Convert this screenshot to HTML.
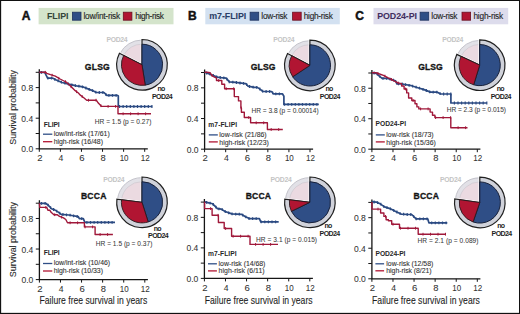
<!DOCTYPE html><html><head><meta charset="utf-8"><style>html,body{margin:0;padding:0;background:#fff;width:520px;height:314px;overflow:hidden}svg{display:block}</style></head><body><svg width="520" height="314" viewBox="0 0 520 314" font-family="Liberation Sans, sans-serif">
<rect x="0" y="0" width="520" height="314" fill="#fff"/>
<text x="21.64" y="19.90" font-size="12.0" font-weight="bold" fill="#111" text-anchor="start" textLength="8.95" lengthAdjust="spacing" stroke="#111" stroke-width="0.45" >A</text>
<rect x="38.6" y="7.9" width="134.9" height="16.4" fill="#d4e4cb"/>
<text x="46.88" y="19.20" font-size="8.9" font-weight="bold" fill="#33463a" text-anchor="start" textLength="21.7" lengthAdjust="spacing" stroke="#33463a" stroke-width="0.05" >FLIPI</text>
<rect x="72.4" y="12.2" width="8.6" height="8" fill="#2f4e86" stroke="#1f3360" stroke-width="0.8"/>
<text x="83.42" y="18.80" font-size="8.3" font-weight="normal" fill="#262626" text-anchor="start" textLength="36.7" lengthAdjust="spacing" stroke="#262626" stroke-width="0.12" >low/int-risk</text>
<rect x="123.30000000000001" y="12.2" width="8.6" height="8" fill="#b11532" stroke="#6a0f20" stroke-width="0.8"/>
<text x="135.22" y="18.80" font-size="8.3" font-weight="normal" fill="#262626" text-anchor="start" textLength="28.67" lengthAdjust="spacing" stroke="#262626" stroke-width="0.12" >high-risk</text>
<text x="187.96" y="19.90" font-size="12.0" font-weight="bold" fill="#111" text-anchor="start" textLength="8.35" lengthAdjust="spacing" stroke="#111" stroke-width="0.45" >B</text>
<rect x="205.3" y="7.9" width="134.5" height="16.4" fill="#d3e1f1"/>
<text x="209.18" y="19.20" font-size="8.9" font-weight="bold" fill="#2a3d66" text-anchor="start" textLength="37.08" lengthAdjust="spacing" stroke="#2a3d66" stroke-width="0.05" >m7-FLIPI</text>
<rect x="250.1" y="12.2" width="8.6" height="8" fill="#2f4e86" stroke="#1f3360" stroke-width="0.8"/>
<text x="261.32" y="18.80" font-size="8.3" font-weight="normal" fill="#262626" text-anchor="start" textLength="26.17" lengthAdjust="spacing" stroke="#262626" stroke-width="0.12" >low-risk</text>
<rect x="292.59999999999997" y="12.2" width="8.6" height="8" fill="#b11532" stroke="#6a0f20" stroke-width="0.8"/>
<text x="303.72" y="18.80" font-size="8.3" font-weight="normal" fill="#262626" text-anchor="start" textLength="29.17" lengthAdjust="spacing" stroke="#262626" stroke-width="0.12" >high-risk</text>
<text x="355.22" y="19.90" font-size="12.0" font-weight="bold" fill="#111" text-anchor="start" textLength="8.37" lengthAdjust="spacing" stroke="#111" stroke-width="0.45" >C</text>
<rect x="373.5" y="7.9" width="134.7" height="16.4" fill="#dddcec"/>
<text x="377.28" y="19.20" font-size="8.9" font-weight="bold" fill="#422e60" text-anchor="start" textLength="39.62" lengthAdjust="spacing" stroke="#422e60" stroke-width="0.05" >POD24-PI</text>
<rect x="420.09999999999997" y="12.2" width="8.6" height="8" fill="#2f4e86" stroke="#1f3360" stroke-width="0.8"/>
<text x="431.32" y="18.80" font-size="8.3" font-weight="normal" fill="#262626" text-anchor="start" textLength="26.17" lengthAdjust="spacing" stroke="#262626" stroke-width="0.12" >low-risk</text>
<rect x="462.0" y="12.2" width="8.6" height="8" fill="#b11532" stroke="#6a0f20" stroke-width="0.8"/>
<text x="473.42" y="18.80" font-size="8.3" font-weight="normal" fill="#262626" text-anchor="start" textLength="29.77" lengthAdjust="spacing" stroke="#262626" stroke-width="0.12" >high-risk</text>
<path d="M39.3,69.3 V148.8 H147.8" fill="none" stroke="#151515" stroke-width="1.3"/>
<path d="M35.699999999999996,72.30 H39.3" stroke="#151515" stroke-width="1"/>
<path d="M35.699999999999996,87.60 H39.3" stroke="#151515" stroke-width="1"/>
<path d="M35.699999999999996,102.90 H39.3" stroke="#151515" stroke-width="1"/>
<path d="M35.699999999999996,118.20 H39.3" stroke="#151515" stroke-width="1"/>
<path d="M35.699999999999996,133.50 H39.3" stroke="#151515" stroke-width="1"/>
<path d="M35.699999999999996,148.80 H39.3" stroke="#151515" stroke-width="1"/>
<text x="21.36" y="91.10" font-size="8.6" font-weight="normal" fill="#333" text-anchor="start" textLength="11.89" lengthAdjust="spacingAndGlyphs" stroke="#333" stroke-width="0.05" >0.8</text>
<text x="21.36" y="121.70" font-size="8.6" font-weight="normal" fill="#333" text-anchor="start" textLength="11.8" lengthAdjust="spacingAndGlyphs" stroke="#333" stroke-width="0.05" >0.4</text>
<text x="21.36" y="152.30" font-size="8.6" font-weight="normal" fill="#333" text-anchor="start" textLength="11.89" lengthAdjust="spacingAndGlyphs" stroke="#333" stroke-width="0.05" >0.0</text>
<path d="M39.30,148.8 V151.8" stroke="#151515" stroke-width="1"/>
<text x="37.22" y="161.00" font-size="8.6" font-weight="normal" fill="#333" text-anchor="start" textLength="5.32" lengthAdjust="spacingAndGlyphs" stroke="#333" stroke-width="0.05" >2</text>
<path d="M60.38,148.8 V151.8" stroke="#151515" stroke-width="1"/>
<text x="58.61" y="161.00" font-size="8.6" font-weight="normal" fill="#333" text-anchor="start" textLength="4.8" lengthAdjust="spacingAndGlyphs" stroke="#333" stroke-width="0.05" >4</text>
<path d="M81.46,148.8 V151.8" stroke="#151515" stroke-width="1"/>
<text x="79.38" y="161.00" font-size="8.6" font-weight="normal" fill="#333" text-anchor="start" textLength="5.32" lengthAdjust="spacingAndGlyphs" stroke="#333" stroke-width="0.05" >6</text>
<path d="M102.54,148.8 V151.8" stroke="#151515" stroke-width="1"/>
<text x="100.57" y="161.00" font-size="8.6" font-weight="normal" fill="#333" text-anchor="start" textLength="5.21" lengthAdjust="spacingAndGlyphs" stroke="#333" stroke-width="0.05" >8</text>
<path d="M123.62,148.8 V151.8" stroke="#151515" stroke-width="1"/>
<text x="119.63" y="161.00" font-size="8.6" font-weight="normal" fill="#333" text-anchor="start" textLength="8.88" lengthAdjust="spacingAndGlyphs" stroke="#333" stroke-width="0.05" >10</text>
<path d="M144.70,148.8 V151.8" stroke="#151515" stroke-width="1"/>
<text x="140.71" y="161.00" font-size="8.6" font-weight="normal" fill="#333" text-anchor="start" textLength="8.97" lengthAdjust="spacingAndGlyphs" stroke="#333" stroke-width="0.05" >12</text>
<path d="M39.4,200.2 V279.6 H147.9" fill="none" stroke="#151515" stroke-width="1.3"/>
<path d="M35.8,203.20 H39.4" stroke="#151515" stroke-width="1"/>
<path d="M35.8,218.48 H39.4" stroke="#151515" stroke-width="1"/>
<path d="M35.8,233.76 H39.4" stroke="#151515" stroke-width="1"/>
<path d="M35.8,249.04 H39.4" stroke="#151515" stroke-width="1"/>
<path d="M35.8,264.32 H39.4" stroke="#151515" stroke-width="1"/>
<path d="M35.8,279.60 H39.4" stroke="#151515" stroke-width="1"/>
<text x="21.46" y="221.98" font-size="8.6" font-weight="normal" fill="#333" text-anchor="start" textLength="11.89" lengthAdjust="spacingAndGlyphs" stroke="#333" stroke-width="0.05" >0.8</text>
<text x="21.46" y="252.54" font-size="8.6" font-weight="normal" fill="#333" text-anchor="start" textLength="11.8" lengthAdjust="spacingAndGlyphs" stroke="#333" stroke-width="0.05" >0.4</text>
<text x="21.46" y="283.10" font-size="8.6" font-weight="normal" fill="#333" text-anchor="start" textLength="11.89" lengthAdjust="spacingAndGlyphs" stroke="#333" stroke-width="0.05" >0.0</text>
<path d="M39.40,279.6 V282.6" stroke="#151515" stroke-width="1"/>
<text x="37.32" y="291.80" font-size="8.6" font-weight="normal" fill="#333" text-anchor="start" textLength="5.32" lengthAdjust="spacingAndGlyphs" stroke="#333" stroke-width="0.05" >2</text>
<path d="M60.48,279.6 V282.6" stroke="#151515" stroke-width="1"/>
<text x="58.71" y="291.80" font-size="8.6" font-weight="normal" fill="#333" text-anchor="start" textLength="4.8" lengthAdjust="spacingAndGlyphs" stroke="#333" stroke-width="0.05" >4</text>
<path d="M81.56,279.6 V282.6" stroke="#151515" stroke-width="1"/>
<text x="79.48" y="291.80" font-size="8.6" font-weight="normal" fill="#333" text-anchor="start" textLength="5.32" lengthAdjust="spacingAndGlyphs" stroke="#333" stroke-width="0.05" >6</text>
<path d="M102.64,279.6 V282.6" stroke="#151515" stroke-width="1"/>
<text x="100.67" y="291.80" font-size="8.6" font-weight="normal" fill="#333" text-anchor="start" textLength="5.21" lengthAdjust="spacingAndGlyphs" stroke="#333" stroke-width="0.05" >8</text>
<path d="M123.72,279.6 V282.6" stroke="#151515" stroke-width="1"/>
<text x="119.73" y="291.80" font-size="8.6" font-weight="normal" fill="#333" text-anchor="start" textLength="8.88" lengthAdjust="spacingAndGlyphs" stroke="#333" stroke-width="0.05" >10</text>
<path d="M144.80,279.6 V282.6" stroke="#151515" stroke-width="1"/>
<text x="140.81" y="291.80" font-size="8.6" font-weight="normal" fill="#333" text-anchor="start" textLength="8.97" lengthAdjust="spacingAndGlyphs" stroke="#333" stroke-width="0.05" >12</text>
<path d="M204.6,69.5 V149.2 H313.1" fill="none" stroke="#151515" stroke-width="1.3"/>
<path d="M201.0,72.50 H204.6" stroke="#151515" stroke-width="1"/>
<path d="M201.0,87.84 H204.6" stroke="#151515" stroke-width="1"/>
<path d="M201.0,103.18 H204.6" stroke="#151515" stroke-width="1"/>
<path d="M201.0,118.52 H204.6" stroke="#151515" stroke-width="1"/>
<path d="M201.0,133.86 H204.6" stroke="#151515" stroke-width="1"/>
<path d="M201.0,149.20 H204.6" stroke="#151515" stroke-width="1"/>
<text x="186.66" y="91.34" font-size="8.6" font-weight="normal" fill="#333" text-anchor="start" textLength="11.89" lengthAdjust="spacingAndGlyphs" stroke="#333" stroke-width="0.05" >0.8</text>
<text x="186.66" y="122.02" font-size="8.6" font-weight="normal" fill="#333" text-anchor="start" textLength="11.8" lengthAdjust="spacingAndGlyphs" stroke="#333" stroke-width="0.05" >0.4</text>
<text x="186.66" y="152.70" font-size="8.6" font-weight="normal" fill="#333" text-anchor="start" textLength="11.89" lengthAdjust="spacingAndGlyphs" stroke="#333" stroke-width="0.05" >0.0</text>
<path d="M204.60,149.2 V152.2" stroke="#151515" stroke-width="1"/>
<text x="202.52" y="161.40" font-size="8.6" font-weight="normal" fill="#333" text-anchor="start" textLength="5.32" lengthAdjust="spacingAndGlyphs" stroke="#333" stroke-width="0.05" >2</text>
<path d="M225.68,149.2 V152.2" stroke="#151515" stroke-width="1"/>
<text x="223.91" y="161.40" font-size="8.6" font-weight="normal" fill="#333" text-anchor="start" textLength="4.8" lengthAdjust="spacingAndGlyphs" stroke="#333" stroke-width="0.05" >4</text>
<path d="M246.76,149.2 V152.2" stroke="#151515" stroke-width="1"/>
<text x="244.68" y="161.40" font-size="8.6" font-weight="normal" fill="#333" text-anchor="start" textLength="5.32" lengthAdjust="spacingAndGlyphs" stroke="#333" stroke-width="0.05" >6</text>
<path d="M267.84,149.2 V152.2" stroke="#151515" stroke-width="1"/>
<text x="265.87" y="161.40" font-size="8.6" font-weight="normal" fill="#333" text-anchor="start" textLength="5.21" lengthAdjust="spacingAndGlyphs" stroke="#333" stroke-width="0.05" >8</text>
<path d="M288.92,149.2 V152.2" stroke="#151515" stroke-width="1"/>
<text x="284.93" y="161.40" font-size="8.6" font-weight="normal" fill="#333" text-anchor="start" textLength="8.88" lengthAdjust="spacingAndGlyphs" stroke="#333" stroke-width="0.05" >10</text>
<path d="M310.00,149.2 V152.2" stroke="#151515" stroke-width="1"/>
<text x="306.01" y="161.40" font-size="8.6" font-weight="normal" fill="#333" text-anchor="start" textLength="8.97" lengthAdjust="spacingAndGlyphs" stroke="#333" stroke-width="0.05" >12</text>
<path d="M204.4,199.1 V278.4 H312.9" fill="none" stroke="#151515" stroke-width="1.3"/>
<path d="M200.8,202.10 H204.4" stroke="#151515" stroke-width="1"/>
<path d="M200.8,217.36 H204.4" stroke="#151515" stroke-width="1"/>
<path d="M200.8,232.62 H204.4" stroke="#151515" stroke-width="1"/>
<path d="M200.8,247.88 H204.4" stroke="#151515" stroke-width="1"/>
<path d="M200.8,263.14 H204.4" stroke="#151515" stroke-width="1"/>
<path d="M200.8,278.40 H204.4" stroke="#151515" stroke-width="1"/>
<text x="186.46" y="220.86" font-size="8.6" font-weight="normal" fill="#333" text-anchor="start" textLength="11.89" lengthAdjust="spacingAndGlyphs" stroke="#333" stroke-width="0.05" >0.8</text>
<text x="186.46" y="251.38" font-size="8.6" font-weight="normal" fill="#333" text-anchor="start" textLength="11.8" lengthAdjust="spacingAndGlyphs" stroke="#333" stroke-width="0.05" >0.4</text>
<text x="186.46" y="281.90" font-size="8.6" font-weight="normal" fill="#333" text-anchor="start" textLength="11.89" lengthAdjust="spacingAndGlyphs" stroke="#333" stroke-width="0.05" >0.0</text>
<path d="M204.40,278.4 V281.4" stroke="#151515" stroke-width="1"/>
<text x="202.32" y="290.60" font-size="8.6" font-weight="normal" fill="#333" text-anchor="start" textLength="5.32" lengthAdjust="spacingAndGlyphs" stroke="#333" stroke-width="0.05" >2</text>
<path d="M225.48,278.4 V281.4" stroke="#151515" stroke-width="1"/>
<text x="223.71" y="290.60" font-size="8.6" font-weight="normal" fill="#333" text-anchor="start" textLength="4.8" lengthAdjust="spacingAndGlyphs" stroke="#333" stroke-width="0.05" >4</text>
<path d="M246.56,278.4 V281.4" stroke="#151515" stroke-width="1"/>
<text x="244.48" y="290.60" font-size="8.6" font-weight="normal" fill="#333" text-anchor="start" textLength="5.32" lengthAdjust="spacingAndGlyphs" stroke="#333" stroke-width="0.05" >6</text>
<path d="M267.64,278.4 V281.4" stroke="#151515" stroke-width="1"/>
<text x="265.67" y="290.60" font-size="8.6" font-weight="normal" fill="#333" text-anchor="start" textLength="5.21" lengthAdjust="spacingAndGlyphs" stroke="#333" stroke-width="0.05" >8</text>
<path d="M288.72,278.4 V281.4" stroke="#151515" stroke-width="1"/>
<text x="284.73" y="290.60" font-size="8.6" font-weight="normal" fill="#333" text-anchor="start" textLength="8.88" lengthAdjust="spacingAndGlyphs" stroke="#333" stroke-width="0.05" >10</text>
<path d="M309.80,278.4 V281.4" stroke="#151515" stroke-width="1"/>
<text x="305.81" y="290.60" font-size="8.6" font-weight="normal" fill="#333" text-anchor="start" textLength="8.97" lengthAdjust="spacingAndGlyphs" stroke="#333" stroke-width="0.05" >12</text>
<path d="M371.9,70.0 V149.2 H480.4" fill="none" stroke="#151515" stroke-width="1.3"/>
<path d="M368.29999999999995,73.00 H371.9" stroke="#151515" stroke-width="1"/>
<path d="M368.29999999999995,88.24 H371.9" stroke="#151515" stroke-width="1"/>
<path d="M368.29999999999995,103.48 H371.9" stroke="#151515" stroke-width="1"/>
<path d="M368.29999999999995,118.72 H371.9" stroke="#151515" stroke-width="1"/>
<path d="M368.29999999999995,133.96 H371.9" stroke="#151515" stroke-width="1"/>
<path d="M368.29999999999995,149.20 H371.9" stroke="#151515" stroke-width="1"/>
<text x="353.96" y="91.74" font-size="8.6" font-weight="normal" fill="#333" text-anchor="start" textLength="11.89" lengthAdjust="spacingAndGlyphs" stroke="#333" stroke-width="0.05" >0.8</text>
<text x="353.96" y="122.22" font-size="8.6" font-weight="normal" fill="#333" text-anchor="start" textLength="11.8" lengthAdjust="spacingAndGlyphs" stroke="#333" stroke-width="0.05" >0.4</text>
<text x="353.96" y="152.70" font-size="8.6" font-weight="normal" fill="#333" text-anchor="start" textLength="11.89" lengthAdjust="spacingAndGlyphs" stroke="#333" stroke-width="0.05" >0.0</text>
<path d="M371.90,149.2 V152.2" stroke="#151515" stroke-width="1"/>
<text x="369.82" y="161.40" font-size="8.6" font-weight="normal" fill="#333" text-anchor="start" textLength="5.32" lengthAdjust="spacingAndGlyphs" stroke="#333" stroke-width="0.05" >2</text>
<path d="M392.98,149.2 V152.2" stroke="#151515" stroke-width="1"/>
<text x="391.21" y="161.40" font-size="8.6" font-weight="normal" fill="#333" text-anchor="start" textLength="4.8" lengthAdjust="spacingAndGlyphs" stroke="#333" stroke-width="0.05" >4</text>
<path d="M414.06,149.2 V152.2" stroke="#151515" stroke-width="1"/>
<text x="411.98" y="161.40" font-size="8.6" font-weight="normal" fill="#333" text-anchor="start" textLength="5.32" lengthAdjust="spacingAndGlyphs" stroke="#333" stroke-width="0.05" >6</text>
<path d="M435.14,149.2 V152.2" stroke="#151515" stroke-width="1"/>
<text x="433.17" y="161.40" font-size="8.6" font-weight="normal" fill="#333" text-anchor="start" textLength="5.21" lengthAdjust="spacingAndGlyphs" stroke="#333" stroke-width="0.05" >8</text>
<path d="M456.22,149.2 V152.2" stroke="#151515" stroke-width="1"/>
<text x="452.23" y="161.40" font-size="8.6" font-weight="normal" fill="#333" text-anchor="start" textLength="8.88" lengthAdjust="spacingAndGlyphs" stroke="#333" stroke-width="0.05" >10</text>
<path d="M477.30,149.2 V152.2" stroke="#151515" stroke-width="1"/>
<text x="473.31" y="161.40" font-size="8.6" font-weight="normal" fill="#333" text-anchor="start" textLength="8.97" lengthAdjust="spacingAndGlyphs" stroke="#333" stroke-width="0.05" >12</text>
<path d="M371.9,199.4 V278.8 H480.4" fill="none" stroke="#151515" stroke-width="1.3"/>
<path d="M368.29999999999995,202.40 H371.9" stroke="#151515" stroke-width="1"/>
<path d="M368.29999999999995,217.68 H371.9" stroke="#151515" stroke-width="1"/>
<path d="M368.29999999999995,232.96 H371.9" stroke="#151515" stroke-width="1"/>
<path d="M368.29999999999995,248.24 H371.9" stroke="#151515" stroke-width="1"/>
<path d="M368.29999999999995,263.52 H371.9" stroke="#151515" stroke-width="1"/>
<path d="M368.29999999999995,278.80 H371.9" stroke="#151515" stroke-width="1"/>
<text x="353.96" y="221.18" font-size="8.6" font-weight="normal" fill="#333" text-anchor="start" textLength="11.89" lengthAdjust="spacingAndGlyphs" stroke="#333" stroke-width="0.05" >0.8</text>
<text x="353.96" y="251.74" font-size="8.6" font-weight="normal" fill="#333" text-anchor="start" textLength="11.8" lengthAdjust="spacingAndGlyphs" stroke="#333" stroke-width="0.05" >0.4</text>
<text x="353.96" y="282.30" font-size="8.6" font-weight="normal" fill="#333" text-anchor="start" textLength="11.89" lengthAdjust="spacingAndGlyphs" stroke="#333" stroke-width="0.05" >0.0</text>
<path d="M371.90,278.8 V281.8" stroke="#151515" stroke-width="1"/>
<text x="369.82" y="291.00" font-size="8.6" font-weight="normal" fill="#333" text-anchor="start" textLength="5.32" lengthAdjust="spacingAndGlyphs" stroke="#333" stroke-width="0.05" >2</text>
<path d="M392.98,278.8 V281.8" stroke="#151515" stroke-width="1"/>
<text x="391.21" y="291.00" font-size="8.6" font-weight="normal" fill="#333" text-anchor="start" textLength="4.8" lengthAdjust="spacingAndGlyphs" stroke="#333" stroke-width="0.05" >4</text>
<path d="M414.06,278.8 V281.8" stroke="#151515" stroke-width="1"/>
<text x="411.98" y="291.00" font-size="8.6" font-weight="normal" fill="#333" text-anchor="start" textLength="5.32" lengthAdjust="spacingAndGlyphs" stroke="#333" stroke-width="0.05" >6</text>
<path d="M435.14,278.8 V281.8" stroke="#151515" stroke-width="1"/>
<text x="433.17" y="291.00" font-size="8.6" font-weight="normal" fill="#333" text-anchor="start" textLength="5.21" lengthAdjust="spacingAndGlyphs" stroke="#333" stroke-width="0.05" >8</text>
<path d="M456.22,278.8 V281.8" stroke="#151515" stroke-width="1"/>
<text x="452.23" y="291.00" font-size="8.6" font-weight="normal" fill="#333" text-anchor="start" textLength="8.88" lengthAdjust="spacingAndGlyphs" stroke="#333" stroke-width="0.05" >10</text>
<path d="M477.30,278.8 V281.8" stroke="#151515" stroke-width="1"/>
<text x="473.31" y="291.00" font-size="8.6" font-weight="normal" fill="#333" text-anchor="start" textLength="8.97" lengthAdjust="spacingAndGlyphs" stroke="#333" stroke-width="0.05" >12</text>
<text x="-0.44" y="0.00" font-size="9.9" font-weight="normal" fill="#2a2a2a" text-anchor="start" textLength="74.57" lengthAdjust="spacingAndGlyphs" stroke="#2a2a2a" stroke-width="0.1" transform="translate(16.1,144.3) rotate(-90)">Survival probability</text>
<text x="-0.45" y="0.00" font-size="9.9" font-weight="normal" fill="#2a2a2a" text-anchor="start" textLength="75.17" lengthAdjust="spacingAndGlyphs" stroke="#2a2a2a" stroke-width="0.1" transform="translate(16.1,276.8) rotate(-90)">Survival probability</text>
<text x="39.51" y="304.10" font-size="10.3" font-weight="normal" fill="#1e1e1e" text-anchor="start" textLength="107.79" lengthAdjust="spacingAndGlyphs" stroke="#1e1e1e" stroke-width="0.1" >Failure free survival in years</text>
<text x="204.81" y="304.10" font-size="10.3" font-weight="normal" fill="#1e1e1e" text-anchor="start" textLength="107.79" lengthAdjust="spacingAndGlyphs" stroke="#1e1e1e" stroke-width="0.1" >Failure free survival in years</text>
<text x="372.11" y="304.10" font-size="10.3" font-weight="normal" fill="#1e1e1e" text-anchor="start" textLength="107.79" lengthAdjust="spacingAndGlyphs" stroke="#1e1e1e" stroke-width="0.1" >Failure free survival in years</text>
<path d="M141.74,64.37 L120.09,53.34 A24.3,24.3 0 0 1 141.74,40.07 Z" fill="#e2e1e7" stroke="#bebec6" stroke-width="0.9"/>
<path d="M141.74,64.37 L123.74,55.20 A20.200000000000003,20.200000000000003 0 0 1 141.74,44.17 Z" fill="#ebdae1" stroke="#cdc8d0" stroke-width="0.7"/>
<path d="M118.12,52.63 L142.00,64.80 L142.00,38.00" fill="none" stroke="#fff" stroke-width="2.6"/>
<path d="M142.00,64.80 L142.00,39.50 A25.3,25.3 0 1 1 119.46,53.31 Z" fill="#d0d2da" stroke="#202020" stroke-width="1.2"/>
<path d="M142.00,64.80 L142.00,44.20 A20.6,20.6 0 0 1 145.22,85.15 Z" fill="#2f4e86" stroke="#18213a" stroke-width="1.0"/>
<path d="M142.00,64.80 L145.22,85.15 A20.6,20.6 0 0 1 123.65,55.45 Z" fill="#b11532" stroke="#2a1a1e" stroke-width="0.9"/>
<path d="M141.67,201.93 L117.55,198.96 A24.3,24.3 0 0 1 141.67,177.63 Z" fill="#e2e1e7" stroke="#bebec6" stroke-width="0.9"/>
<path d="M141.67,201.93 L121.62,199.46 A20.200000000000003,20.200000000000003 0 0 1 141.67,181.73 Z" fill="#ebdae1" stroke="#cdc8d0" stroke-width="0.7"/>
<path d="M115.40,199.03 L142.00,202.30 L142.00,175.50" fill="none" stroke="#fff" stroke-width="2.6"/>
<path d="M142.00,202.30 L142.00,177.00 A25.3,25.3 0 1 1 116.89,199.22 Z" fill="#d0d2da" stroke="#202020" stroke-width="1.2"/>
<path d="M142.00,202.30 L142.00,181.70 A20.6,20.6 0 0 1 148.19,221.95 Z" fill="#2f4e86" stroke="#18213a" stroke-width="1.0"/>
<path d="M142.00,202.30 L148.19,221.95 A20.6,20.6 0 0 1 121.55,199.79 Z" fill="#b11532" stroke="#2a1a1e" stroke-width="0.9"/>
<path d="M309.64,64.97 L288.19,53.56 A24.3,24.3 0 0 1 309.64,40.67 Z" fill="#e2e1e7" stroke="#bebec6" stroke-width="0.9"/>
<path d="M309.64,64.97 L291.81,55.49 A20.200000000000003,20.200000000000003 0 0 1 309.64,44.77 Z" fill="#ebdae1" stroke="#cdc8d0" stroke-width="0.7"/>
<path d="M286.24,52.82 L309.90,65.40 L309.90,38.60" fill="none" stroke="#fff" stroke-width="2.6"/>
<path d="M309.90,65.40 L309.90,40.10 A25.3,25.3 0 1 1 287.56,53.52 Z" fill="#d0d2da" stroke="#202020" stroke-width="1.2"/>
<path d="M309.90,65.40 L309.90,44.80 A20.6,20.6 0 1 1 292.72,76.77 Z" fill="#2f4e86" stroke="#18213a" stroke-width="1.0"/>
<path d="M309.90,65.40 L292.72,76.77 A20.6,20.6 0 0 1 291.71,55.73 Z" fill="#b11532" stroke="#2a1a1e" stroke-width="0.9"/>
<path d="M309.57,201.93 L285.45,198.96 A24.3,24.3 0 0 1 309.57,177.63 Z" fill="#e2e1e7" stroke="#bebec6" stroke-width="0.9"/>
<path d="M309.57,201.93 L289.52,199.46 A20.200000000000003,20.200000000000003 0 0 1 309.57,181.73 Z" fill="#ebdae1" stroke="#cdc8d0" stroke-width="0.7"/>
<path d="M283.30,199.03 L309.90,202.30 L309.90,175.50" fill="none" stroke="#fff" stroke-width="2.6"/>
<path d="M309.90,202.30 L309.90,177.00 A25.3,25.3 0 1 1 284.79,199.22 Z" fill="#d0d2da" stroke="#202020" stroke-width="1.2"/>
<path d="M309.90,202.30 L309.90,181.70 A20.6,20.6 0 1 1 291.38,211.33 Z" fill="#2f4e86" stroke="#18213a" stroke-width="1.0"/>
<path d="M309.90,202.30 L291.38,211.33 A20.6,20.6 0 0 1 289.45,199.79 Z" fill="#b11532" stroke="#2a1a1e" stroke-width="0.9"/>
<path d="M479.43,64.68 L457.41,54.41 A24.3,24.3 0 0 1 479.43,40.38 Z" fill="#e2e1e7" stroke="#bebec6" stroke-width="0.9"/>
<path d="M479.43,64.68 L461.12,56.14 A20.200000000000003,20.200000000000003 0 0 1 479.43,44.48 Z" fill="#ebdae1" stroke="#cdc8d0" stroke-width="0.7"/>
<path d="M455.41,53.77 L479.70,65.10 L479.70,38.30" fill="none" stroke="#fff" stroke-width="2.6"/>
<path d="M479.70,65.10 L479.70,39.80 A25.3,25.3 0 1 1 456.77,54.41 Z" fill="#d0d2da" stroke="#202020" stroke-width="1.2"/>
<path d="M479.70,65.10 L479.70,44.50 A20.6,20.6 0 1 1 473.68,84.80 Z" fill="#2f4e86" stroke="#18213a" stroke-width="1.0"/>
<path d="M479.70,65.10 L473.68,84.80 A20.6,20.6 0 0 1 461.03,56.39 Z" fill="#b11532" stroke="#2a1a1e" stroke-width="0.9"/>
<path d="M479.47,202.12 L455.41,198.74 A24.3,24.3 0 0 1 479.47,177.82 Z" fill="#e2e1e7" stroke="#bebec6" stroke-width="0.9"/>
<path d="M479.47,202.12 L459.47,199.31 A20.200000000000003,20.200000000000003 0 0 1 479.47,181.92 Z" fill="#ebdae1" stroke="#cdc8d0" stroke-width="0.7"/>
<path d="M453.26,198.77 L479.80,202.50 L479.80,175.70" fill="none" stroke="#fff" stroke-width="2.6"/>
<path d="M479.80,202.50 L479.80,177.20 A25.3,25.3 0 1 1 454.75,198.98 Z" fill="#d0d2da" stroke="#202020" stroke-width="1.2"/>
<path d="M479.80,202.50 L479.80,181.90 A20.6,20.6 0 1 1 473.09,221.98 Z" fill="#2f4e86" stroke="#18213a" stroke-width="1.0"/>
<path d="M479.80,202.50 L473.09,221.98 A20.6,20.6 0 0 1 459.40,199.63 Z" fill="#b11532" stroke="#2a1a1e" stroke-width="0.9"/>
<text x="106.42" y="42.30" font-size="6.8" font-weight="bold" fill="#c4c4c4" text-anchor="start" textLength="21.14" lengthAdjust="spacing" >POD24</text>
<text x="103.32" y="181.80" font-size="6.8" font-weight="bold" fill="#c4c4c4" text-anchor="start" textLength="21.14" lengthAdjust="spacing" >POD24</text>
<text x="273.32" y="41.90" font-size="6.8" font-weight="bold" fill="#c4c4c4" text-anchor="start" textLength="21.14" lengthAdjust="spacing" >POD24</text>
<text x="270.52" y="181.80" font-size="6.8" font-weight="bold" fill="#c4c4c4" text-anchor="start" textLength="21.14" lengthAdjust="spacing" >POD24</text>
<text x="442.22" y="41.90" font-size="6.8" font-weight="bold" fill="#c4c4c4" text-anchor="start" textLength="21.14" lengthAdjust="spacing" >POD24</text>
<text x="440.02" y="181.80" font-size="6.8" font-weight="bold" fill="#c4c4c4" text-anchor="start" textLength="21.14" lengthAdjust="spacing" >POD24</text>
<text x="157.61" y="91.10" font-size="7.0" font-weight="bold" fill="#1e1e1e" text-anchor="start" textLength="7.78" lengthAdjust="spacing" >no</text>
<text x="152.01" y="98.70" font-size="7.0" font-weight="bold" fill="#1e1e1e" text-anchor="start" textLength="20.66" lengthAdjust="spacing" >POD24</text>
<text x="153.71" y="231.10" font-size="7.0" font-weight="bold" fill="#1e1e1e" text-anchor="start" textLength="7.78" lengthAdjust="spacing" >no</text>
<text x="148.11" y="238.40" font-size="7.0" font-weight="bold" fill="#1e1e1e" text-anchor="start" textLength="20.66" lengthAdjust="spacing" >POD24</text>
<text x="325.51" y="91.00" font-size="7.0" font-weight="bold" fill="#1e1e1e" text-anchor="start" textLength="7.78" lengthAdjust="spacing" >no</text>
<text x="319.81" y="98.70" font-size="7.0" font-weight="bold" fill="#1e1e1e" text-anchor="start" textLength="20.66" lengthAdjust="spacing" >POD24</text>
<text x="324.61" y="227.90" font-size="7.0" font-weight="bold" fill="#1e1e1e" text-anchor="start" textLength="7.78" lengthAdjust="spacing" >no</text>
<text x="319.61" y="236.00" font-size="7.0" font-weight="bold" fill="#1e1e1e" text-anchor="start" textLength="20.66" lengthAdjust="spacing" >POD24</text>
<text x="496.71" y="91.00" font-size="7.0" font-weight="bold" fill="#1e1e1e" text-anchor="start" textLength="7.78" lengthAdjust="spacing" >no</text>
<text x="490.71" y="98.80" font-size="7.0" font-weight="bold" fill="#1e1e1e" text-anchor="start" textLength="20.66" lengthAdjust="spacing" >POD24</text>
<text x="497.21" y="227.90" font-size="7.0" font-weight="bold" fill="#1e1e1e" text-anchor="start" textLength="7.78" lengthAdjust="spacing" >no</text>
<text x="491.61" y="236.00" font-size="7.0" font-weight="bold" fill="#1e1e1e" text-anchor="start" textLength="20.66" lengthAdjust="spacing" >POD24</text>
<text x="84.86" y="69.80" font-size="8.6" font-weight="bold" fill="#141414" text-anchor="start" textLength="24.89" lengthAdjust="spacing" stroke="#141414" stroke-width="0.3" >GLSG</text>
<text x="80.90" y="198.80" font-size="8.6" font-weight="bold" fill="#141414" text-anchor="start" textLength="25.55" lengthAdjust="spacing" stroke="#141414" stroke-width="0.3" >BCCA</text>
<text x="250.66" y="69.60" font-size="8.6" font-weight="bold" fill="#141414" text-anchor="start" textLength="24.89" lengthAdjust="spacing" stroke="#141414" stroke-width="0.3" >GLSG</text>
<text x="245.70" y="198.90" font-size="8.6" font-weight="bold" fill="#141414" text-anchor="start" textLength="25.35" lengthAdjust="spacing" stroke="#141414" stroke-width="0.3" >BCCA</text>
<text x="418.16" y="69.60" font-size="8.6" font-weight="bold" fill="#141414" text-anchor="start" textLength="24.59" lengthAdjust="spacing" stroke="#141414" stroke-width="0.3" >GLSG</text>
<text x="413.50" y="198.90" font-size="8.6" font-weight="bold" fill="#141414" text-anchor="start" textLength="25.45" lengthAdjust="spacing" stroke="#141414" stroke-width="0.3" >BCCA</text>
<path d="M39.3,72.3 L44.7,72.3 L47.6,78.1 L52.4,78.1 L56.3,80.0 L62.0,82.5 L69.7,84.3 L76.5,85.8 L80.0,86.3 L83.8,87.2 L88.7,89.1 L92.5,90.6 L96.3,92.5 L104.0,92.5 L106.9,95.4 L117.5,95.4 L118.3,96.0 L118.3,106.5 L152.2,106.5" fill="none" stroke="#2b4a82" stroke-width="1.7" stroke-linejoin="round"/>
<path d="M41.4,70.9v2.8M47.9,76.7v2.8M51.5,76.7v2.8M54.8,77.9v2.8M58.1,79.4v2.8M61.4,80.8v2.8M64.9,81.8v2.8M68.4,82.6v2.8M71.9,83.4v2.8M75.4,84.2v2.8M78.9,84.7v2.8M82.5,85.5v2.8M85.9,86.6v2.8M89.2,87.9v2.8M92.6,89.2v2.8M95.8,90.8v2.8M99.3,91.1v2.8M102.9,91.1v2.8M105.8,92.9v2.8M108.9,94.0v2.8M112.5,94.0v2.8M116.1,94.0v2.8M119.5,105.1v2.8M123.1,105.1v2.8M126.7,105.1v2.8M130.3,105.1v2.8M133.9,105.1v2.8M137.5,105.1v2.8M141.1,105.1v2.8M144.7,105.1v2.8M148.3,105.1v2.8M151.9,105.1v2.8" stroke="#2b4a82" stroke-width="1.2"/>
<path d="M39.3,72.3 L45.7,72.3 L46.7,73.3 L50.5,74.7 L55.3,76.2 L60.1,79.0 L64.0,81.0 L66.8,82.4 L70.7,86.3 L74.5,90.1 L78.4,93.0 L80.0,94.9 L83.8,97.8 L86.7,100.2 L96.3,100.2 L98.3,103.1 L101.6,106.4 L118.0,106.4 L118.0,113.8 L151.0,113.8" fill="none" stroke="#a0183a" stroke-width="1.4" stroke-linejoin="round"/>
<path d="M45.3,70.9v2.8M52.1,73.8v2.8M58.8,76.9v2.8M65.5,80.3v2.8M71.1,85.3v2.8M76.6,90.3v2.8M82.2,95.2v2.8M88.5,98.8v2.8M96.0,98.8v2.8M100.9,104.3v2.8M108.1,105.0v2.8M115.6,105.0v2.8M123.1,112.4v2.8M130.6,112.4v2.8M138.1,112.4v2.8M145.6,112.4v2.8" stroke="#a0183a" stroke-width="1.0"/>
<path d="M39.4,203.3 L45.6,203.3 L48.3,205.2 L51.5,208.8 L54.7,209.9 L57.9,211.9 L61.1,214.3 L68.8,215.0 L78.3,216.7 L79.3,218.7 L83.3,218.7 L84.9,222.3 L115.0,222.3" fill="none" stroke="#2b4a82" stroke-width="1.7" stroke-linejoin="round"/>
<path d="M41.5,201.9v2.8M45.1,201.9v2.8M48.1,203.7v2.8M50.6,206.3v2.8M53.6,208.1v2.8M56.7,209.8v2.8M59.7,211.8v2.8M62.9,213.1v2.8M66.5,213.4v2.8M70.1,213.8v2.8M73.6,214.5v2.8M77.2,215.1v2.8M81.7,217.3v2.8M86.9,220.9v2.8M90.5,220.9v2.8M94.1,220.9v2.8M97.7,220.9v2.8M101.3,220.9v2.8M104.9,220.9v2.8M108.5,220.9v2.8M112.1,220.9v2.8" stroke="#2b4a82" stroke-width="1.2"/>
<path d="M39.4,203.3 L39.8,207.4 L46.8,207.4 L47.9,210.3 L49.9,210.3 L51.1,212.3 L53.9,214.7 L57.1,214.7 L59.5,216.3 L63.5,217.9 L65.8,219.5 L67.5,222.8 L84.4,222.8 L84.4,226.9 L95.1,226.9 L95.1,234.5 L112.9,234.5" fill="none" stroke="#a0183a" stroke-width="1.4" stroke-linejoin="round"/>
<path d="M45.8,206.0v2.8M54.7,213.3v2.8M61.6,215.7v2.8M70.1,221.4v2.8M77.6,221.4v2.8M85.1,225.5v2.8M92.6,225.5v2.8M100.1,233.1v2.8M107.6,233.1v2.8" stroke="#a0183a" stroke-width="1.0"/>
<path d="M204.6,72.3 L212.6,75.2 L217.4,77.1 L221.3,77.6 L226.1,78.1 L229.4,81.9 L235.7,82.4 L243.4,83.4 L245.8,83.6 L248.1,86.2 L254.2,87.4 L257.3,87.4 L260.0,89.1 L262.9,91.5 L271.5,91.5 L273.4,93.8 L282.4,93.8 L283.9,96.2 L283.9,104.4 L318.8,104.4" fill="none" stroke="#2b4a82" stroke-width="1.7" stroke-linejoin="round"/>
<path d="M206.6,71.6v2.8M210.0,72.8v2.8M213.3,74.1v2.8M216.7,75.4v2.8M220.2,76.1v2.8M223.8,76.5v2.8M226.9,77.7v2.8M229.3,80.4v2.8M232.8,80.8v2.8M236.4,81.1v2.8M240.0,81.6v2.8M243.6,82.0v2.8M246.7,83.2v2.8M249.5,85.1v2.8M253.1,85.8v2.8M256.7,86.0v2.8M259.8,87.6v2.8M262.6,89.8v2.8M266.1,90.1v2.8M269.7,90.1v2.8M272.6,91.5v2.8M275.8,92.4v2.8M279.4,92.4v2.8M284.5,103.0v2.8M288.1,103.0v2.8M291.7,103.0v2.8M295.3,103.0v2.8M298.9,103.0v2.8M302.5,103.0v2.8M306.1,103.0v2.8M309.7,103.0v2.8M313.3,103.0v2.8M316.9,103.0v2.8" stroke="#2b4a82" stroke-width="1.2"/>
<path d="M204.6,72.3 L206.8,72.3 L210.2,72.8 L211.7,75.2 L213.6,76.7 L216.5,78.1 L216.5,80.5 L221.8,80.5 L221.8,84.3 L224.6,84.3 L224.6,88.7 L234.3,88.7 L234.3,96.6 L238.5,96.6 L238.5,100.9 L240.9,100.9 L240.9,107.9 L241.4,107.9 L241.4,112.2 L244.3,112.2 L244.3,117.5 L250.6,117.5 L250.6,122.8 L267.4,122.8 L267.4,129.5 L282.8,129.5" fill="none" stroke="#a0183a" stroke-width="1.4" stroke-linejoin="round"/>
<path d="M212.0,74.0v2.8M218.7,79.1v2.8M226.2,87.3v2.8M233.7,87.3v2.8M241.2,106.5v2.8M248.7,116.1v2.8M256.2,121.4v2.8M263.7,121.4v2.8M271.2,128.1v2.8M278.7,128.1v2.8" stroke="#a0183a" stroke-width="1.0"/>
<path d="M204.6,201.8 L208.8,202.8 L212.6,203.8 L215.5,206.7 L217.4,208.6 L221.3,209.1 L225.1,211.5 L231.8,213.9 L241.5,214.3 L245.0,216.5 L249.3,218.6 L259.4,218.6 L260.8,221.9 L278.7,221.9" fill="none" stroke="#2b4a82" stroke-width="1.7" stroke-linejoin="round"/>
<path d="M206.6,200.9v2.8M210.1,201.8v2.8M213.3,203.1v2.8M215.9,205.7v2.8M218.9,207.4v2.8M222.3,208.3v2.8M225.3,210.2v2.8M228.7,211.4v2.8M232.1,212.5v2.8M235.7,212.7v2.8M239.3,212.8v2.8M242.7,213.7v2.8M245.8,215.5v2.8M249.0,217.1v2.8M252.6,217.2v2.8M256.2,217.2v2.8M261.2,220.5v2.8M264.8,220.5v2.8M268.4,220.5v2.8M272.0,220.5v2.8M275.6,220.5v2.8" stroke="#2b4a82" stroke-width="1.2"/>
<path d="M204.6,201.8 L204.6,208.6 L212.1,208.6 L212.1,215.3 L218.4,215.3 L218.4,222.5 L224.2,222.5 L224.2,228.5 L231.6,228.5 L231.6,236.2 L250.0,236.2 L250.0,244.4 L278.0,244.4" fill="none" stroke="#a0183a" stroke-width="1.4" stroke-linejoin="round"/>
<path d="M210.6,207.2v2.8M218.1,213.9v2.8M225.6,227.1v2.8M233.1,234.8v2.8M240.6,234.8v2.8M248.1,234.8v2.8M255.6,243.0v2.8M263.1,243.0v2.8M270.6,243.0v2.8" stroke="#a0183a" stroke-width="1.0"/>
<path d="M372.0,72.8 L376.4,73.3 L379.6,76.3 L382.1,78.3 L386.6,78.3 L395.5,80.7 L396.9,83.9 L401.7,83.9 L405.0,84.5 L411.4,85.7 L417.8,87.7 L424.1,89.6 L430.5,92.1 L436.9,92.1 L440.7,94.0 L450.9,94.0 L450.9,103.0 L486.8,103.0" fill="none" stroke="#2b4a82" stroke-width="1.7" stroke-linejoin="round"/>
<path d="M374.1,71.6v2.8M377.3,72.8v2.8M380.0,75.2v2.8M383.0,76.9v2.8M386.6,76.9v2.8M390.1,77.8v2.8M393.5,78.8v2.8M398.5,82.5v2.8M402.1,82.6v2.8M405.6,83.2v2.8M409.1,83.9v2.8M412.6,84.7v2.8M416.1,85.8v2.8M419.5,86.8v2.8M423.0,87.9v2.8M426.3,89.1v2.8M429.7,90.4v2.8M433.2,90.7v2.8M436.8,90.7v2.8M440.1,92.3v2.8M443.6,92.6v2.8M447.2,92.6v2.8M450.8,92.6v2.8M454.4,101.6v2.8M458.0,101.6v2.8M461.6,101.6v2.8M465.2,101.6v2.8M468.8,101.6v2.8M472.4,101.6v2.8M476.0,101.6v2.8M479.6,101.6v2.8M483.2,101.6v2.8M486.8,101.6v2.8" stroke="#2b4a82" stroke-width="1.2"/>
<path d="M372.0,72.8 L376.4,72.8 L379.6,74.0 L383.4,75.3 L387.8,77.6 L392.3,79.8 L396.8,82.3 L397.9,82.9 L401.6,83.6 L401.6,86.0 L404.1,86.0 L404.1,89.0 L406.7,89.0 L406.7,92.9 L408.6,92.9 L408.6,98.0 L411.8,98.0 L411.8,100.5 L415.0,100.5 L415.0,103.7 L416.9,103.7 L416.9,106.9 L418.8,106.9 L418.8,108.9 L430.1,108.9 L430.1,112.1 L432.5,112.1 L432.5,115.3 L434.9,115.3 L434.9,117.6 L450.8,117.6 L450.8,127.7 L467.5,127.7" fill="none" stroke="#a0183a" stroke-width="1.4" stroke-linejoin="round"/>
<path d="M377.9,72.0v2.8M384.9,74.7v2.8M391.6,78.0v2.8M398.2,81.6v2.8M405.6,87.6v2.8M413.1,99.1v2.8M420.6,107.5v2.8M428.1,107.5v2.8M435.6,116.2v2.8M443.1,116.2v2.8M450.6,116.2v2.8M458.1,126.3v2.8M465.6,126.3v2.8" stroke="#a0183a" stroke-width="1.0"/>
<path d="M372.0,201.9 L376.7,202.2 L380.6,204.1 L384.5,206.9 L390.0,208.6 L395.6,211.4 L401.2,214.1 L407.9,214.5 L411.7,214.5 L416.1,218.9 L427.8,218.9 L428.9,222.8 L447.3,222.8" fill="none" stroke="#2b4a82" stroke-width="1.7" stroke-linejoin="round"/>
<path d="M374.1,200.6v2.8M377.6,201.2v2.8M380.8,202.8v2.8M383.7,204.9v2.8M387.0,206.3v2.8M390.4,207.4v2.8M393.7,209.0v2.8M396.9,210.6v2.8M400.1,212.2v2.8M403.6,212.8v2.8M407.2,213.1v2.8M410.8,213.1v2.8M413.6,215.0v2.8M416.2,217.5v2.8M419.8,217.5v2.8M423.4,217.5v2.8M427.0,217.5v2.8M431.7,221.4v2.8M435.3,221.4v2.8M438.9,221.4v2.8M442.5,221.4v2.8M446.1,221.4v2.8" stroke="#2b4a82" stroke-width="1.2"/>
<path d="M372.0,201.9 L372.0,209.1 L380.6,209.1 L380.6,213.0 L383.9,213.0 L383.9,216.4 L386.1,216.4 L386.1,219.7 L388.4,219.7 L388.4,220.8 L391.7,220.8 L391.7,224.2 L399.5,224.2 L399.5,228.2 L418.2,228.2 L418.2,234.2 L445.6,234.2" fill="none" stroke="#a0183a" stroke-width="1.4" stroke-linejoin="round"/>
<path d="M378.0,207.7v2.8M385.5,215.0v2.8M393.0,222.8v2.8M400.5,226.8v2.8M408.0,226.8v2.8M415.5,226.8v2.8M423.0,232.8v2.8M430.5,232.8v2.8M438.0,232.8v2.8M445.5,232.8v2.8" stroke="#a0183a" stroke-width="1.0"/>
<text x="94.77" y="124.00" font-size="6.6" font-weight="normal" fill="#3a3a3a" text-anchor="start" textLength="56.63" lengthAdjust="spacing" stroke="#3a3a3a" stroke-width="0.05" >HR = 1.5 (p = 0.27)</text>
<text x="95.77" y="245.80" font-size="6.6" font-weight="normal" fill="#3a3a3a" text-anchor="start" textLength="56.63" lengthAdjust="spacing" stroke="#3a3a3a" stroke-width="0.05" >HR = 1.5 (p = 0.37)</text>
<text x="251.47" y="112.70" font-size="6.6" font-weight="normal" fill="#3a3a3a" text-anchor="start" textLength="67.11" lengthAdjust="spacing" stroke="#3a3a3a" stroke-width="0.05" >HR = 3.8 (p = 0.00014)</text>
<text x="256.07" y="242.00" font-size="6.6" font-weight="normal" fill="#3a3a3a" text-anchor="start" textLength="60.97" lengthAdjust="spacing" stroke="#3a3a3a" stroke-width="0.05" >HR = 3.1 (p = 0.015)</text>
<text x="446.77" y="111.50" font-size="6.6" font-weight="normal" fill="#3a3a3a" text-anchor="start" textLength="59.27" lengthAdjust="spacing" stroke="#3a3a3a" stroke-width="0.05" >HR = 2.3 (p = 0.015)</text>
<text x="417.47" y="243.40" font-size="6.6" font-weight="normal" fill="#3a3a3a" text-anchor="start" textLength="61.07" lengthAdjust="spacing" stroke="#3a3a3a" stroke-width="0.05" >HR = 2.1 (p = 0.089)</text>
<text x="43.63" y="126.50" font-size="6.7" font-weight="bold" fill="#262626" text-anchor="start" textLength="16.0" lengthAdjust="spacing" >FLIPI</text>
<path d="M43.0,134.2 H52.3" stroke="#2f4e86" stroke-width="1.3"/>
<path d="M43.0,141.7 H52.3" stroke="#b11532" stroke-width="1.3"/>
<text x="53.72" y="136.40" font-size="6.9" font-weight="normal" fill="#333" text-anchor="start" textLength="55.99" lengthAdjust="spacing" stroke="#333" stroke-width="0.1" >low/int-risk (17/61)</text>
<text x="53.72" y="143.90" font-size="6.9" font-weight="normal" fill="#333" text-anchor="start" textLength="49.23" lengthAdjust="spacing" stroke="#333" stroke-width="0.1" >high-risk (16/48)</text>
<text x="43.63" y="255.40" font-size="6.7" font-weight="bold" fill="#262626" text-anchor="start" textLength="16.0" lengthAdjust="spacing" >FLIPI</text>
<path d="M43.0,263.5 H52.3" stroke="#2f4e86" stroke-width="1.3"/>
<path d="M43.0,271.0 H52.3" stroke="#b11532" stroke-width="1.3"/>
<text x="53.72" y="265.40" font-size="6.9" font-weight="normal" fill="#333" text-anchor="start" textLength="56.39" lengthAdjust="spacing" stroke="#333" stroke-width="0.1" >low/int-risk (10/46)</text>
<text x="53.72" y="273.10" font-size="6.9" font-weight="normal" fill="#333" text-anchor="start" textLength="49.23" lengthAdjust="spacing" stroke="#333" stroke-width="0.1" >high-risk (10/33)</text>
<text x="208.33" y="126.80" font-size="6.7" font-weight="bold" fill="#262626" text-anchor="start" textLength="28.69" lengthAdjust="spacing" >m7-FLIPI</text>
<path d="M208.8,134.9 H217.8" stroke="#2f4e86" stroke-width="1.3"/>
<path d="M208.8,141.9 H217.8" stroke="#b11532" stroke-width="1.3"/>
<text x="219.32" y="137.20" font-size="6.9" font-weight="normal" fill="#333" text-anchor="start" textLength="47.33" lengthAdjust="spacing" stroke="#333" stroke-width="0.1" >low-risk (21/86)</text>
<text x="219.32" y="144.60" font-size="6.9" font-weight="normal" fill="#333" text-anchor="start" textLength="49.43" lengthAdjust="spacing" stroke="#333" stroke-width="0.1" >high-risk (12/23)</text>
<text x="207.93" y="255.50" font-size="6.7" font-weight="bold" fill="#262626" text-anchor="start" textLength="28.69" lengthAdjust="spacing" >m7-FLIPI</text>
<path d="M208.0,263.8 H216.9" stroke="#2f4e86" stroke-width="1.3"/>
<path d="M208.0,270.9 H216.9" stroke="#b11532" stroke-width="1.3"/>
<text x="218.62" y="265.90" font-size="6.9" font-weight="normal" fill="#333" text-anchor="start" textLength="46.73" lengthAdjust="spacing" stroke="#333" stroke-width="0.1" >low-risk (14/68)</text>
<text x="218.62" y="273.30" font-size="6.9" font-weight="normal" fill="#333" text-anchor="start" textLength="46.03" lengthAdjust="spacing" stroke="#333" stroke-width="0.1" >high-risk (6/11)</text>
<text x="375.53" y="126.40" font-size="6.7" font-weight="bold" fill="#262626" text-anchor="start" textLength="30.52" lengthAdjust="spacing" >POD24-PI</text>
<path d="M375.8,134.9 H384.8" stroke="#2f4e86" stroke-width="1.3"/>
<path d="M375.8,141.9 H384.8" stroke="#b11532" stroke-width="1.3"/>
<text x="386.32" y="137.20" font-size="6.9" font-weight="normal" fill="#333" text-anchor="start" textLength="47.33" lengthAdjust="spacing" stroke="#333" stroke-width="0.1" >low-risk (18/73)</text>
<text x="386.32" y="144.60" font-size="6.9" font-weight="normal" fill="#333" text-anchor="start" textLength="49.43" lengthAdjust="spacing" stroke="#333" stroke-width="0.1" >high-risk (15/36)</text>
<text x="375.53" y="255.50" font-size="6.7" font-weight="bold" fill="#262626" text-anchor="start" textLength="29.92" lengthAdjust="spacing" >POD24-PI</text>
<path d="M375.4,263.8 H384.1" stroke="#2f4e86" stroke-width="1.3"/>
<path d="M375.4,270.8 H384.1" stroke="#b11532" stroke-width="1.3"/>
<text x="386.32" y="265.90" font-size="6.9" font-weight="normal" fill="#333" text-anchor="start" textLength="46.93" lengthAdjust="spacing" stroke="#333" stroke-width="0.1" >low-risk (12/58)</text>
<text x="386.32" y="273.30" font-size="6.9" font-weight="normal" fill="#333" text-anchor="start" textLength="45.29" lengthAdjust="spacing" stroke="#333" stroke-width="0.1" >high-risk (8/21)</text>
<path d="M0.5,0 V314 M0,0.5 H520 M519.5,0 V314 M0,313.5 H520" fill="none" stroke="#111" stroke-width="1"/>
<path d="M1.5,1 V313 M1,312.5 H519" fill="none" stroke="#111" stroke-width="1" stroke-opacity="0.15"/>
</svg></body></html>
